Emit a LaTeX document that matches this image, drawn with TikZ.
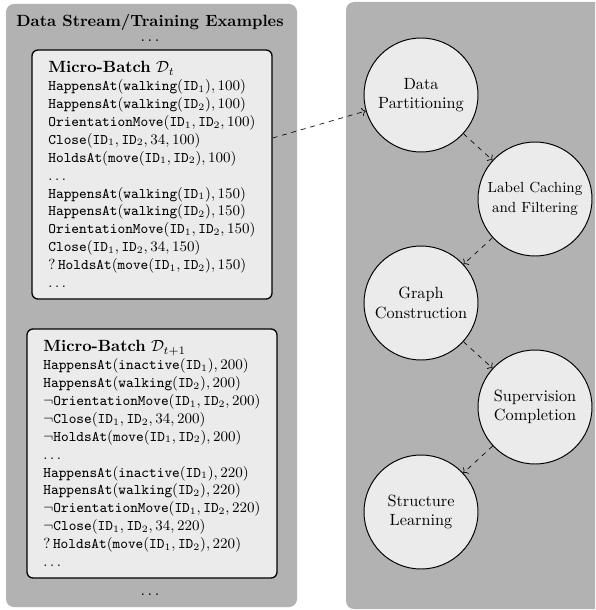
\documentclass[tikz,border=0pt]{standalone}
\usepackage{amsmath}
\usetikzlibrary{arrows.meta}
\newlength\pxu
\setlength\pxu{0.615pt}
\newcommand\tx[1]{\mathtt{#1}}
\newcommand\mbhead[1]{{\normalsize\textbf{Micro-Batch} $\mathcal{D}_{#1}$}}
\tikzset{
  panel/.style={fill=black!30, draw=none, rounded corners=8\pxu, inner sep=0pt},
  batchbox/.style={draw, thick, fill=black!8, rounded corners=6\pxu, align=left, inner sep=0pt, font=\small},
  stage/.style={circle, draw, semithick, fill=black!8, minimum size=114\pxu, inner sep=0pt, align=center},
  dotsnode/.style={inner sep=1pt},
  flow/.style={dashed, ->, thin}
}
\begin{document}
\begin{tikzpicture}[x=\pxu, y=-\pxu]
\clip (0,0) rectangle (595,610);
% panels
\node[panel, minimum width=291\pxu, minimum height=603\pxu] (lp) at (151.5,305.5) {};
\node[panel, minimum width=264\pxu, minimum height=607\pxu] (rp) at (478,305.5) {};
% left panel content
\node[font=\bfseries] (title) at (150,22) {Data Stream/Training Examples};
\node[dotsnode] (topdots) at (150,41) {$\ldots$};
\node[dotsnode] (botdots) at (150,595) {$\ldots$};
\node[batchbox, minimum width=240\pxu, minimum height=249\pxu] (box1) at (152,174.5) {%
\mbhead{t}\\
$\tx{HappensAt}(\tx{walking}(\tx{ID}_1),100)$\\
$\tx{HappensAt}(\tx{walking}(\tx{ID}_2),100)$\\
$\tx{OrientationMove}(\tx{ID}_1,\tx{ID}_2,100)$\\
$\tx{Close}(\tx{ID}_1,\tx{ID}_2,34,100)$\\
$\tx{HoldsAt}(\tx{move}(\tx{ID}_1,\tx{ID}_2),100)$\\
$\ldots$\\
$\tx{HappensAt}(\tx{walking}(\tx{ID}_1),150)$\\
$\tx{HappensAt}(\tx{walking}(\tx{ID}_2),150)$\\
$\tx{OrientationMove}(\tx{ID}_1,\tx{ID}_2,150)$\\
$\tx{Close}(\tx{ID}_1,\tx{ID}_2,34,150)$\\
$?\,\tx{HoldsAt}(\tx{move}(\tx{ID}_1,\tx{ID}_2),150)$\\
$\ldots$};
\node[batchbox, minimum width=250\pxu, minimum height=249\pxu] (box2) at (152,453.5) {%
\mbhead{t+1}\\
$\tx{HappensAt}(\tx{inactive}(\tx{ID}_1),200)$\\
$\tx{HappensAt}(\tx{walking}(\tx{ID}_2),200)$\\
$\neg\tx{OrientationMove}(\tx{ID}_1,\tx{ID}_2,200)$\\
$\neg\tx{Close}(\tx{ID}_1,\tx{ID}_2,34,200)$\\
$\neg\tx{HoldsAt}(\tx{move}(\tx{ID}_1,\tx{ID}_2),200)$\\
$\ldots$\\
$\tx{HappensAt}(\tx{inactive}(\tx{ID}_1),220)$\\
$\tx{HappensAt}(\tx{walking}(\tx{ID}_2),220)$\\
$\neg\tx{OrientationMove}(\tx{ID}_1,\tx{ID}_2,220)$\\
$\neg\tx{Close}(\tx{ID}_1,\tx{ID}_2,34,220)$\\
$?\,\tx{HoldsAt}(\tx{move}(\tx{ID}_1,\tx{ID}_2),220)$\\
$\ldots$};
% stages
\node[stage] (dp) at (421,95) {Data\\Partitioning};
\node[stage, font=\small] (lc) at (535,199) {Label Caching\\[1pt]and Filtering};
\node[stage] (gc) at (421,303) {Graph\\Construction};
\node[stage] (sc) at (535,407) {Supervision\\Completion};
\node[stage] (sl) at (421,512) {Structure\\Learning};
% connectors
\coordinate (src) at (box1.east |- 0,138);
\draw[flow] (src) -- (dp);
\draw[flow] (dp) -- (lc);
\draw[flow] (lc) -- (gc);
\draw[flow] (gc) -- (sc);
\draw[flow] (sc) -- (sl);
\end{tikzpicture}
\end{document}
